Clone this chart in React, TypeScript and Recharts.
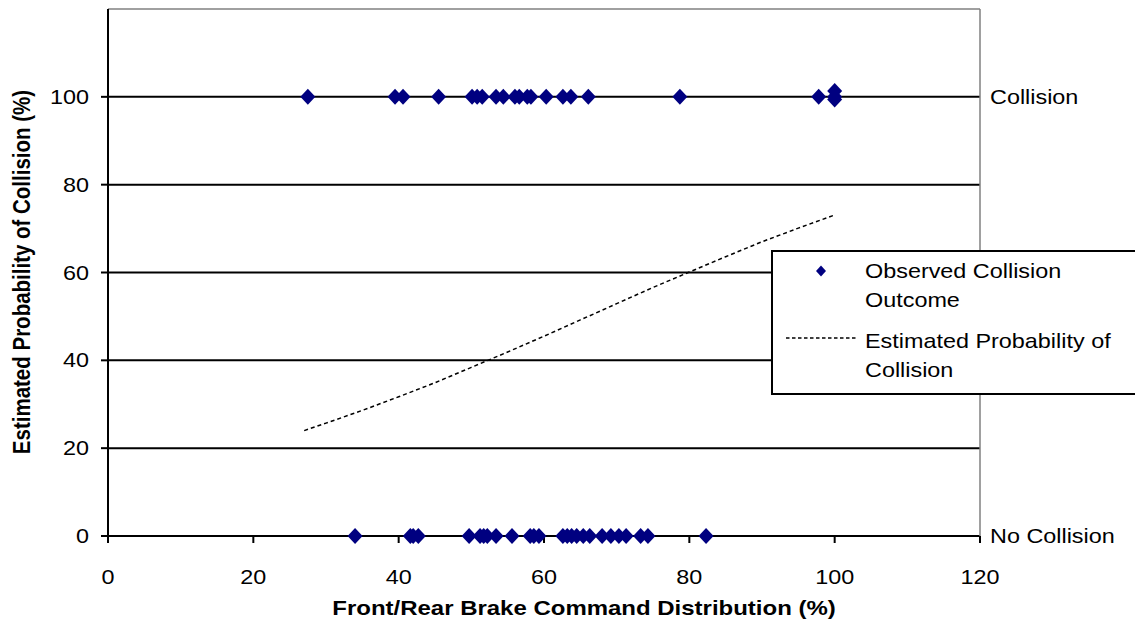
import { ComposedChart, Scatter, Line, XAxis, YAxis, ReferenceLine, Legend, Label } from 'recharts';

const FONT = '"Liberation Sans", Arial, sans-serif';
const NAVY = '#000080';
const BORDER_GRAY = '#808080';
// the whole chart is drawn a little wide, so horizontal text gets stretched
const STRETCH = 1.17;

// observed outcomes: brake distribution (%) for runs that collided / did not
const hitX = [27.5, 39.5, 40.6, 45.5, 50.1, 50.8, 51.5, 53.4, 54.4, 56.0, 56.6, 57.7, 58.2, 60.3, 62.6, 63.7, 66.1, 78.7, 97.8, 100, 100, 100];
const hitY = [100, 100, 100, 100, 100, 100, 100, 100, 100, 100, 100, 100, 100, 100, 100, 100, 100, 100, 100, 100, 101.3, 99.4];
const missX = [34.0, 41.6, 42.0, 42.7, 49.7, 51.2, 51.7, 52.2, 53.4, 55.6, 58.1, 58.6, 59.3, 62.6, 63.2, 63.8, 64.5, 65.4, 66.3, 68.0, 69.2, 70.3, 71.3, 73.3, 74.3, 82.3];

// fitted probability curve
const curveX = [27, 30, 35, 40, 45, 50, 55, 60, 65, 70, 75, 80, 85, 90, 95, 100];
const curveY = [24.0, 25.7, 28.6, 31.7, 34.9, 38.4, 41.9, 45.5, 49.2, 52.9, 56.6, 60.1, 63.6, 67.0, 70.1, 73.1];

const xTicks = [0, 20, 40, 60, 80, 100, 120];
const yTicks = [0, 20, 40, 60, 80, 100];
const gridLines = [20, 40, 60, 80, 100];
const outcomeTicks = [0, 100];
const outcomeNames: Record<number, string> = { 0: 'No Collision', 100: 'Collision' };

const observed = [
  ...hitX.map((x, i) => ({ x, y: hitY[i] })),
  ...missX.map((x) => ({ x, y: 0 })),
];
const curve = curveX.map((x, i) => ({ x, p: curveY[i] }));

const StretchText = ({ x, y, anchor = 'middle', dy, bold, size = 20, children }: any) => (
  <g transform={`translate(${x},${y}) scale(${STRETCH},1)`}>
    <text x={0} y={0} dy={dy} textAnchor={anchor} fontFamily={FONT} fontSize={size} fontWeight={bold ? 'bold' : 'normal'} fill="#000">
      {children}
    </text>
  </g>
);

const Diamond = ({ cx, cy, r = 7.5 }: any) => (
  <path d={`M${cx},${cy - r - 0.5}L${cx + r},${cy}L${cx},${cy + r + 0.5}L${cx - r},${cy}Z`} fill={NAVY} />
);

const XTick = ({ x, y, payload }: any) => <StretchText x={x} y={y} dy="0.71em">{payload.value}</StretchText>;
const YTick = ({ x, y, payload }: any) => <StretchText x={x} y={y} dy="0.355em" anchor="end">{payload.value}</StretchText>;
const OutcomeTick = ({ x, y, payload }: any) => (
  <StretchText x={x} y={y} dy="0.355em" anchor="start">{outcomeNames[payload.value]}</StretchText>
);

const LegendBox = () => (
  <svg width={364} height={145} style={{ display: 'block' }}>
    <rect x={1} y={1} width={370} height={143} fill="#fff" stroke="#000" strokeWidth={2} />
    <Diamond cx={50} cy={21} r={5} />
    <StretchText x={94} y={21} dy="0.355em" anchor="start">Observed Collision</StretchText>
    <StretchText x={94} y={50} dy="0.355em" anchor="start">Outcome</StretchText>
    <line x1={15} x2={85} y1={88} y2={88} stroke="#000" strokeWidth={1.5} strokeDasharray="3.5 2.5" />
    <StretchText x={94} y={91} dy="0.355em" anchor="start">Estimated Probability of</StretchText>
    <StretchText x={94} y={120} dy="0.355em" anchor="start">Collision</StretchText>
  </svg>
);

export default function App() {
  return (
    <div style={{ position: 'absolute', left: 0, top: 0, width: 1135, height: 635, background: '#fff' }}>
      <ComposedChart width={1135} height={635} margin={{ top: 9, right: 0, bottom: 0, left: 48 }}>
        <XAxis
          type="number"
          dataKey="x"
          domain={[0, 120]}
          ticks={xTicks}
          height={99}
          stroke="#000"
          strokeWidth={2}
          tickSize={7}
          tickMargin={27}
          tick={<XTick />}
        >
          <Label content={() => <StretchText x={584} y={615} bold size={20.5}>Front/Rear Brake Command Distribution (%)</StretchText>} />
        </XAxis>
        <YAxis
          type="number"
          domain={[0, 120]}
          ticks={yTicks}
          width={60}
          stroke="#000"
          strokeWidth={2}
          tickSize={7}
          tickMargin={12}
          tick={<YTick />}
        >
          <Label
            content={() => (
              <g transform="translate(30,272) scale(1.17,1) rotate(-90)">
                <text x={0} y={0} textAnchor="middle" fontFamily={FONT} fontSize={20.5} fontWeight="bold" fill="#000">
                  Estimated Probability of Collision (%)
                </text>
              </g>
            )}
          />
        </YAxis>
        <YAxis
          yAxisId="outcome"
          orientation="right"
          type="number"
          domain={[0, 120]}
          ticks={outcomeTicks}
          width={155}
          stroke={BORDER_GRAY}
          strokeWidth={1.5}
          tickLine={false}
          tickSize={0}
          tickMargin={10}
          tick={<OutcomeTick />}
        />
        <ReferenceLine y={120} stroke={BORDER_GRAY} strokeWidth={1.5} />
        {gridLines.map((v) => (
          <ReferenceLine key={v} y={v} stroke="#000" strokeWidth={2} />
        ))}
        <Line
          data={curve}
          dataKey="p"
          type="linear"
          stroke="#000"
          strokeWidth={1.5}
          strokeDasharray="4 3"
          dot={false}
          activeDot={false}
          isAnimationActive={false}
          legendType="none"
        />
        <Scatter
          yAxisId="outcome"
          data={observed}
          dataKey="y"
          shape={<Diamond />}
          isAnimationActive={false}
          legendType="none"
        />
        <Legend
          layout="horizontal"
          verticalAlign="middle"
          align="center"
          content={<LegendBox />}
          wrapperStyle={{ position: 'absolute', left: 771, top: 250, width: 364, height: 145 }}
        />
      </ComposedChart>
    </div>
  );
}
